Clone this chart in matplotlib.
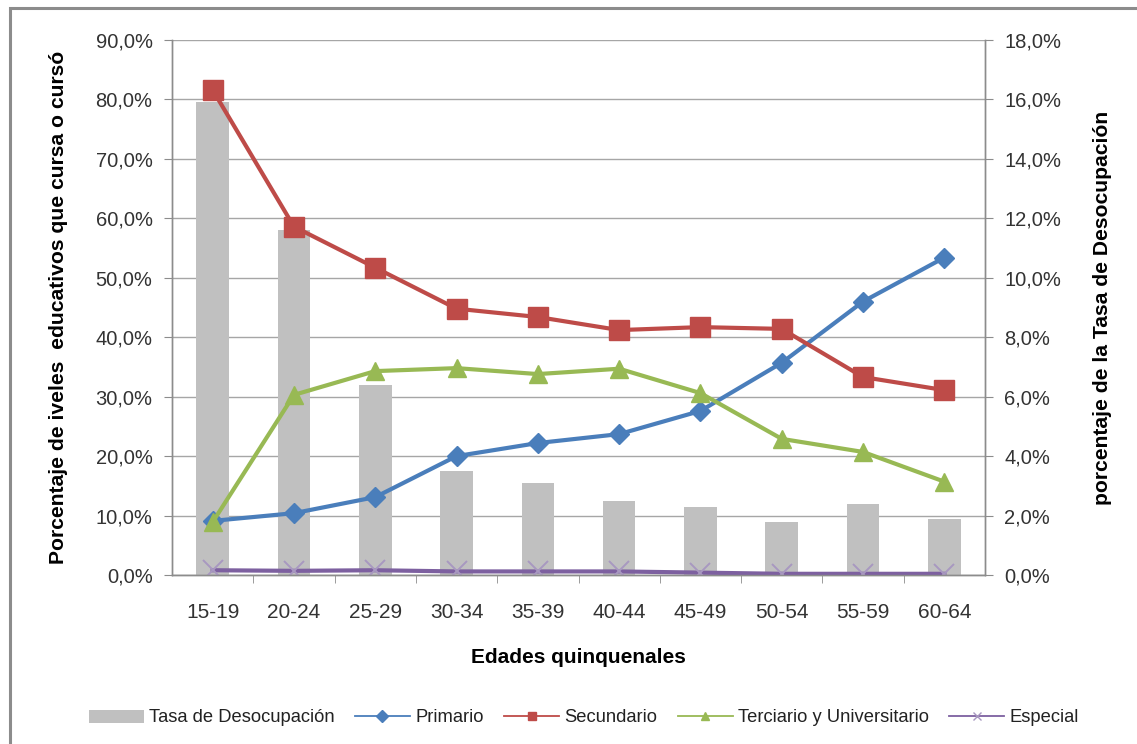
import matplotlib
matplotlib.use("Agg")
import matplotlib.pyplot as plt
from matplotlib.ticker import FuncFormatter, MultipleLocator
from matplotlib.patches import Rectangle
from matplotlib.lines import Line2D

plt.rcParams['font.family'] = ['Liberation Sans', 'DejaVu Sans']

edades = ["15-19", "20-24", "25-29", "30-34", "35-39",
          "40-44", "45-49", "50-54", "55-59", "60-64"]
tasa_desocupacion = [15.9, 11.6, 6.4, 3.5, 3.1, 2.5, 2.3, 1.8, 2.4, 1.9]
primario = [9.1, 10.4, 13.1, 20.0, 22.2, 23.7, 27.6, 35.7, 46.0, 53.4]
secundario = [81.6, 58.6, 51.7, 44.8, 43.4, 41.2, 41.7, 41.4, 33.3, 31.1]
terciario = [8.9, 30.3, 34.3, 34.8, 33.8, 34.7, 30.6, 22.9, 20.7, 15.7]
especial = [0.8, 0.7, 0.8, 0.6, 0.6, 0.6, 0.4, 0.2, 0.2, 0.2]

fig = plt.figure(figsize=(11.37, 7.44), dpi=100)
W, H = 1137, 744
# outer chart frame
fig.patches.append(Rectangle((10 / W, -0.05), 1.2, 1 - 8 / H + 0.05,
                             transform=fig.transFigure, fill=False,
                             edgecolor='#8c8c8c', linewidth=2.2))

left, right, top, bottom = 172, 985, 40, 575
ax2 = fig.add_axes([left / W, 1 - bottom / H, (right - left) / W, (bottom - top) / H])
ax = ax2.twinx()
ax2.yaxis.tick_right()
ax2.yaxis.set_label_position("right")
ax.yaxis.tick_left()
ax.yaxis.set_label_position("left")
ax.set_zorder(ax2.get_zorder() + 1)
ax.patch.set_visible(False)

x = list(range(len(edades)))
pct = FuncFormatter(lambda v, p: f"{v:.1f}".replace(".", ",") + "%")
tick_col = '#333333'

# unemployment bars on the right axis
ax2.bar(x, tasa_desocupacion, width=0.4, color='#c0c0c0', zorder=2,
        label='Tasa de Desocupación')
ax2.set_ylim(0, 18)
ax2.yaxis.set_major_locator(MultipleLocator(2))
ax2.yaxis.set_major_formatter(pct)
ax2.set_xlim(-0.5, len(edades) - 0.5)
ax2.grid(axis='y', color='#a6a6a6', linewidth=1.0, zorder=0)
ax2.set_axisbelow(True)

lw = 3.0
ax.plot(x, primario, color='#4a7ebb', lw=lw, marker='D', ms=10.5, label='Primario')
ax.plot(x, secundario, color='#be4b48', lw=lw, marker='s', ms=14, label='Secundario')
ax.plot(x, terciario, color='#98b954', lw=lw, marker='^', ms=13.5, label='Terciario y Universitario')
ax.plot(x, especial, color='#7d60a0', lw=lw, marker='x', ms=15, mew=1.4,
        mec='#a898c0', label='Especial')
ax.set_ylim(0, 90)
ax.yaxis.set_major_locator(MultipleLocator(10))
ax.yaxis.set_major_formatter(pct)
ax.set_xlim(-0.5, len(edades) - 0.5)

ax2.set_xticks(x)
ax2.set_xticklabels(edades)
ax2.set_xticks([i + 0.5 for i in x[:-1]], minor=True)
ax2.tick_params(axis='x', which='major', length=0, pad=20, labelsize=15, colors=tick_col)
ax2.tick_params(axis='x', which='minor', length=6, color='#8c8c8c', direction='out')
ax2.tick_params(axis='y', length=6, color='#8c8c8c', labelsize=14.5, colors=tick_col, pad=8)
ax.tick_params(axis='y', length=6, color='#8c8c8c', labelsize=14.5, colors=tick_col, pad=8)
ax.tick_params(axis='x', length=0, labelbottom=False)

for a in (ax, ax2):
    a.spines['top'].set_visible(False)
    for s in ('left', 'right', 'bottom'):
        a.spines[s].set_color('#8c8c8c')
        a.spines[s].set_linewidth(1.0)

ax.set_ylabel("Porcentaje de iveles  educativos que cursa o cursó",
              fontsize=15.2, fontweight='bold', labelpad=20)
ax2.set_ylabel("porcentaje de la Tasa de Desocupación",
               fontsize=15.2, fontweight='bold', labelpad=23)
ax2.set_xlabel("Edades quinquenales", fontsize=15, fontweight='bold', labelpad=19)

h1, l1 = ax2.get_legend_handles_labels()
h2, l2 = ax.get_legend_handles_labels()
handles = [h1[0]] + [Line2D([], [], color=h.get_color(), lw=1.3, marker=h.get_marker(),
                            ms=6, mec=h.get_mec(), mfc=h.get_mfc()) for h in h2]
leg = fig.legend(handles, l1 + l2, loc='center', bbox_to_anchor=(584 / W, 1 - 718 / H),
                 ncol=5, frameon=False, fontsize=13.2, handlelength=3.0,
                 columnspacing=1.1, handletextpad=0.3)
for t in leg.get_texts():
    t.set_color('#222222')

fig.savefig("out.png", dpi=100)
